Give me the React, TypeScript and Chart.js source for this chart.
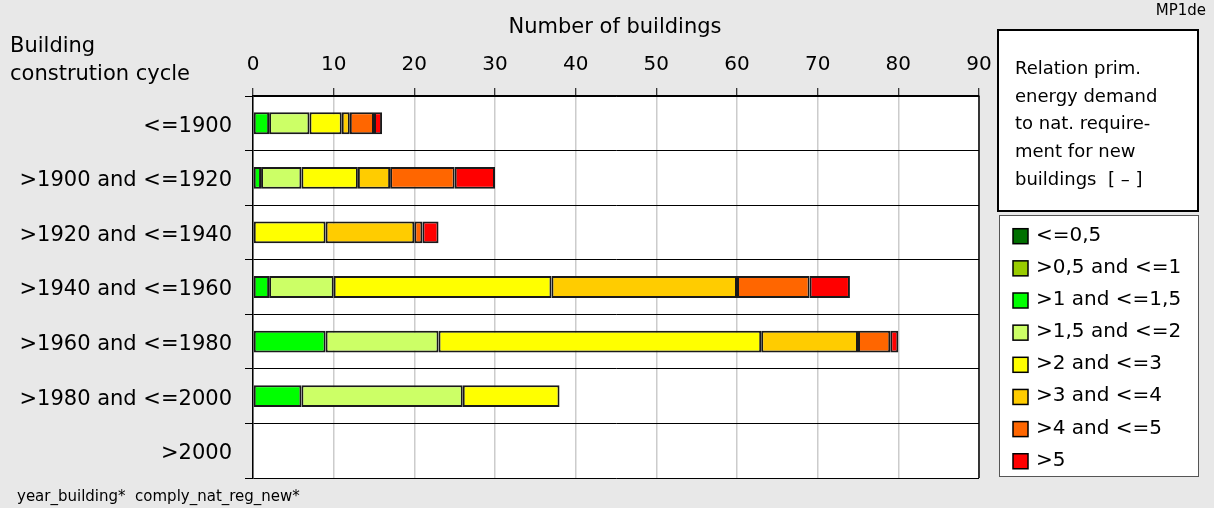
import React, { useEffect, useRef } from 'react';
import { Chart, registerables } from 'chart.js';

Chart.register(...registerables);

// ---------- data ----------
const categories = [
  '<=1900',
  '>1900 and <=1920',
  '>1920 and <=1940',
  '>1940 and <=1960',
  '>1960 and <=1980',
  '>1980 and <=2000',
  '>2000',
];

const seriesLabels = [
  '<=0,5',
  '>0,5 and <=1',
  '>1 and <=1,5',
  '>1,5 and <=2',
  '>2 and <=3',
  '>3 and <=4',
  '>4 and <=5',
  '>5',
];

const seriesColors = ['#007000', '#99CC00', '#00FF00', '#CCFF66', '#FFFF00', '#FFCC00', '#FF6600', '#FF0000'];

const le05 = [0, 0, 0, 0, 0, 0, 0];
const gt05le1 = [0, 0, 0, 0, 0, 0, 0];
const gt1le15 = [2, 1, 0, 2, 9, 6, 0];
const gt15le2 = [5, 5, 0, 8, 14, 20, 0];
const gt2le3 = [4, 7, 9, 27, 40, 12, 0];
const gt3le4 = [1, 4, 11, 23, 12, 0, 0];
const gt4le5 = [3, 8, 1, 9, 4, 0, 0];
const gt5 = [1, 5, 2, 5, 1, 0, 0];

const seriesValues = [le05, gt05le1, gt1le15, gt15le2, gt2le3, gt3le4, gt4le5, gt5];

const xMin = 0;
const xMax = 90;
const xStep = 10;

const axisTitle = 'Number of buildings';
const yTitleLines = ['Building', 'constrution cycle'];
const legendTitleLines = ['Relation prim.', 'energy demand', 'to nat. require-', 'ment for new', 'buildings  [ – ]'];
const cornerTag = 'MP1de';
const footerText = 'year_building*  comply_nat_reg_new*';

const FONT = "'DejaVu Sans', sans-serif";
const BG = '#e8e8e8';

const decorPlugin = {
  id: 'decor',
  beforeDraw(chart: any) {
    const { ctx, chartArea, width, height } = chart;
    ctx.save();
    ctx.fillStyle = BG;
    ctx.fillRect(0, 0, width, height);
    ctx.fillStyle = '#ffffff';
    ctx.fillRect(chartArea.left, chartArea.top, chartArea.right - chartArea.left, chartArea.bottom - chartArea.top);
    ctx.restore();
  },
  afterDraw(chart: any) {
    const { ctx, chartArea } = chart;
    ctx.save();
    // right border of plot
    ctx.strokeStyle = '#000';
    ctx.lineWidth = 1.5;
    ctx.beginPath();
    ctx.moveTo(chartArea.right, chartArea.top);
    ctx.lineTo(chartArea.right, chartArea.bottom);
    ctx.stroke();

    ctx.fillStyle = '#000';
    ctx.textBaseline = 'alphabetic';

    // axis title
    ctx.font = `21px ${FONT}`;
    ctx.textAlign = 'center';
    ctx.fillText(axisTitle, 615, 33);

    // y title
    ctx.textAlign = 'left';
    ctx.font = `21px ${FONT}`;
    ctx.fillText(yTitleLines[0], 10, 52);
    ctx.fillText(yTitleLines[1], 10, 80);

    // corner tag
    ctx.font = `15px ${FONT}`;
    ctx.textAlign = 'right';
    ctx.fillText(cornerTag, 1206, 15);

    // footer
    ctx.textAlign = 'left';
    ctx.font = `15px ${FONT}`;
    ctx.fillText(footerText, 17, 501);

    // legend title box
    ctx.fillStyle = '#fff';
    ctx.fillRect(998, 30, 200, 181);
    ctx.strokeStyle = '#000';
    ctx.lineWidth = 2;
    ctx.strokeRect(998, 30, 200, 181);
    ctx.fillStyle = '#000';
    ctx.font = `18px ${FONT}`;
    legendTitleLines.forEach((t, i) => {
      ctx.fillText(t, 1015, 74 + i * 27.7);
    });

    // legend items box
    ctx.fillStyle = '#fff';
    ctx.fillRect(999, 215, 199, 261);
    ctx.strokeStyle = '#555';
    ctx.lineWidth = 1;
    ctx.strokeRect(999.5, 215.5, 199, 261);
    ctx.font = `20px ${FONT}`;
    seriesLabels.forEach((lab, i) => {
      const base = 240.7 + i * 32.15;
      ctx.fillStyle = seriesColors[i];
      ctx.fillRect(1013, base - 12, 15, 15);
      ctx.strokeStyle = '#000';
      ctx.lineWidth = 1.5;
      ctx.strokeRect(1013, base - 12, 15, 15);
      ctx.fillStyle = '#000';
      ctx.fillText(lab, 1036, base);
    });
    ctx.restore();
  },
};

export default function App() {
  const ref = useRef<HTMLCanvasElement | null>(null);

  useEffect(() => {
    document.body.style.margin = '0';
    const canvas = ref.current;
    if (!canvas) return;
    const chart = new Chart(canvas, {
      type: 'bar',
      data: {
        labels: categories,
        datasets: seriesLabels.map((lab, i) => ({
          label: lab,
          data: seriesValues[i],
          backgroundColor: seriesColors[i],
          borderColor: '#1a1a1a',
          borderWidth: 2,
          borderSkipped: false,
          barPercentage: 0.4,
          categoryPercentage: 1,
        })),
      },
      options: {
        indexAxis: 'y',
        animation: false,
        responsive: false,
        devicePixelRatio: 1,
        layout: { padding: { left: 0, top: 0, right: 1214 - 979, bottom: 508 - 478 } },
        plugins: {
          legend: { display: false },
          tooltip: { enabled: false },
        },
        scales: {
          x: {
            type: 'linear',
            position: 'top',
            stacked: true,
            min: xMin,
            max: xMax,
            ticks: {
              stepSize: xStep,
              color: '#000',
              font: { family: FONT, size: 20 },
              padding: 11,
              maxRotation: 0,
            },
            grid: {
              color: '#cccccc',
              lineWidth: 1.5,
              tickColor: '#000',
              tickLength: 8,
              tickWidth: 1,
            },
            border: { color: '#000', width: 1.5 },
            afterFit: (scale: any) => {
              scale.height = 96;
            },
          },
          y: {
            type: 'category',
            stacked: true,
            ticks: {
              color: '#000',
              font: { family: FONT, size: 21 },
              padding: 13,
              labelOffset: 3,
            },
            grid: {
              color: '#000',
              lineWidth: 1,
              tickColor: '#000',
              tickLength: 8,
              offset: true,
            },
            border: { color: '#000', width: 1.5 },
            afterFit: (scale: any) => {
              scale.width = 253;
            },
          },
        },
      },
      plugins: [decorPlugin],
    });
    return () => chart.destroy();
  }, []);

  return (
    <div style={{ width: 1214, height: 508 }}>
      <canvas ref={ref} width={1214} height={508} style={{ display: 'block', width: 1214, height: 508 }} />
    </div>
  );
}
